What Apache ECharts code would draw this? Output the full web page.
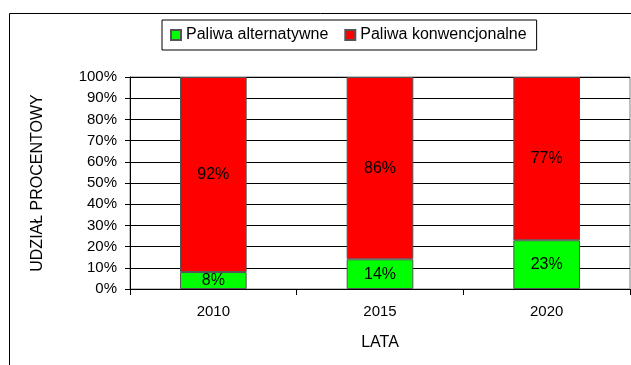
<!DOCTYPE html>
<html>
<head>
<meta charset="utf-8">
<script src="https://cdn.jsdelivr.net/npm/echarts@6/dist/echarts.min.js"></script>
<style>
  html, body { margin: 0; padding: 0; background: #fff; }
  #chart { width: 631px; height: 365px; }
</style>
</head>
<body>
<div id="chart"></div>
<script>
// Udział paliw alternatywnych i konwencjonalnych w latach
const years = ['2010', '2015', '2020'];
const alternatywne = [8, 14, 23];
const konwencjonalne = [92, 86, 77];
const seriesNames = ['Paliwa alternatywne', 'Paliwa konwencjonalne'];
const yTicks = [0, 10, 20, 30, 40, 50, 60, 70, 80, 90, 100];

const FONT = '"Liberation Sans", Arial, sans-serif';

const chart = echarts.init(document.getElementById('chart'), null, { renderer: 'canvas' });

const labelStyle = {
  show: true,
  position: 'inside',
  formatter: p => p.value + '%',
  color: '#000',
  fontFamily: FONT,
  fontSize: 16
};

chart.setOption({
  animation: false,
  backgroundColor: '#fff',
  graphic: [{
    type: 'rect',
    silent: true,
    shape: { x: 9.5, y: 13.5, width: 700, height: 400 },
    style: { fill: 'none', stroke: '#000', lineWidth: 1 }
  }],
  legend: {
    left: 162,
    top: 20,
    padding: [7, 10, 7, 8],
    itemGap: 16,
    itemWidth: 10,
    itemHeight: 10,
    icon: 'rect',
    borderColor: '#000',
    borderWidth: 1,
    textStyle: { color: '#000', fontFamily: FONT, fontSize: 16 },
    data: seriesNames
  },
  grid: {
    left: 130,
    top: 77,
    right: 1,
    bottom: 76,
    show: true,
    borderColor: '#808080',
    borderWidth: 1,
    backgroundColor: 'transparent'
  },
  xAxis: {
    type: 'category',
    data: years,
    boundaryGap: true,
    name: 'LATA',
    nameLocation: 'middle',
    nameGap: 46,
    nameTextStyle: { color: '#000', fontFamily: FONT, fontSize: 16 },
    axisLine: { show: true, lineStyle: { color: '#000', width: 1 } },
    axisTick: { show: true, length: 6, lineStyle: { color: '#000' } },
    axisLabel: { color: '#000', fontFamily: FONT, fontSize: 15, margin: 15 },
    splitLine: { show: false }
  },
  yAxis: {
    type: 'value',
    min: yTicks[0],
    max: yTicks[yTicks.length - 1],
    interval: yTicks[1] - yTicks[0],
    name: 'UDZIAŁ PROCENTOWY',
    nameLocation: 'middle',
    nameRotate: 90,
    nameGap: 84,
    nameTextStyle: { color: '#000', fontFamily: FONT, fontSize: 16 },
    axisLine: { show: true, lineStyle: { color: '#000', width: 1 } },
    axisTick: { show: true, length: 5, lineStyle: { color: '#000' } },
    axisLabel: {
      color: '#000', fontFamily: FONT, fontSize: 15, margin: 13,
      formatter: v => v + '%'
    },
    splitLine: { show: true, lineStyle: { color: '#000', width: 1 } }
  },
  series: [
    {
      name: seriesNames[0],
      type: 'bar',
      stack: 'udzial',
      barWidth: '40%',
      data: alternatywne,
      itemStyle: { color: '#00ff00', borderColor: '#555', borderWidth: 1 },
      label: labelStyle
    },
    {
      name: seriesNames[1],
      type: 'bar',
      stack: 'udzial',
      barWidth: '40%',
      data: konwencjonalne,
      itemStyle: { color: '#ff0000', borderColor: '#555', borderWidth: 1 },
      label: labelStyle
    }
  ]
});
</script>
</body>
</html>
